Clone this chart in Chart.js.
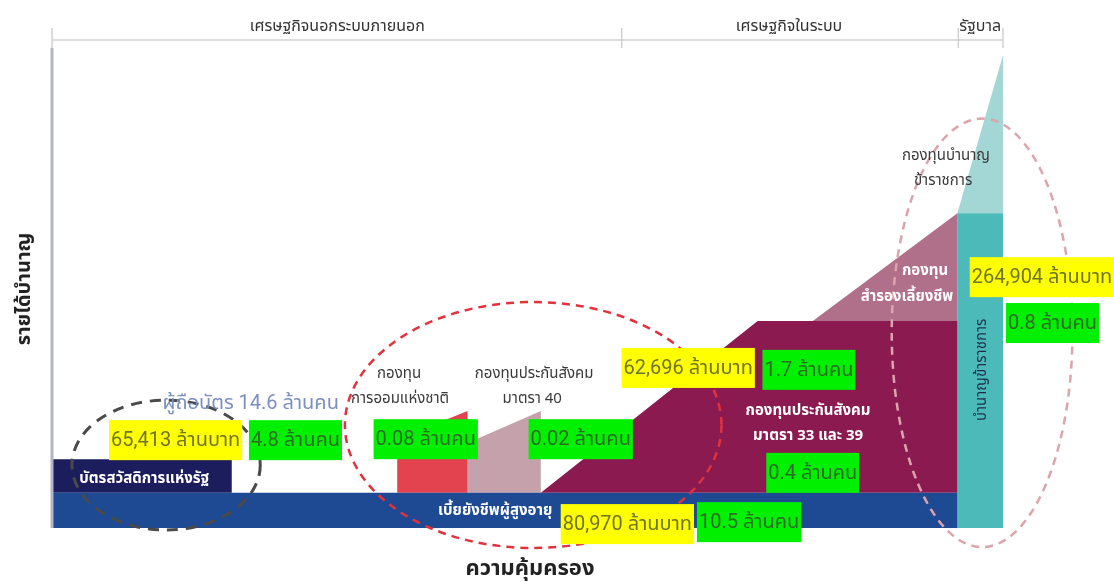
<!DOCTYPE html>
<html>
<head>
<meta charset="utf-8">
<script src="https://cdn.jsdelivr.net/npm/chart.js@4.4.1/dist/chart.umd.min.js"></script>
<style>
  body { margin: 0; background: #fff; }
  #wrap { width: 1114px; height: 582px; }
</style>
</head>
<body>
<div id="wrap"><canvas id="chart"></canvas></div>
<script>
// ---- data (coverage on x, pension income on y, both 0-100) ----
const shapeNames = [
    'เบี้ยยังชีพผู้สูงอายุ', 'บัตรสวัสดิการแห่งรัฐ', 'กองทุนการออมแห่งชาติ',
    'กองทุนประกันสังคม มาตรา 40', 'กองทุนประกันสังคม มาตรา 33 และ 39',
    'กองทุนสำรองเลี้ยงชีพ', 'บำนาญข้าราชการ', 'กองทุนบำนาญข้าราชการ'
];
const shapeCoverage = [
    [0, 95.2, 95.2, 0],
    [0, 18.9, 18.9, 0],
    [36.3, 43.7, 43.7, 36.3],
    [43.7, 51.4, 51.4, 43.7],
    [51.4, 74.2, 95.2, 95.2],
    [80.0, 95.2, 95.2],
    [95.2, 100, 100, 95.2],
    [95.2, 100, 100]
];
const shapeIncome = [
    [0, 0, 7.2, 7.2],
    [7.2, 7.2, 14.1, 14.1],
    [7.2, 7.2, 24.0, 18.2],
    [7.2, 7.2, 24.0, 17.4],
    [7.2, 42.4, 42.4, 7.2],
    [42.4, 64.5, 42.4],
    [0, 0, 64.5, 64.5],
    [64.5, 96.9, 64.5]
];
const shapeColors = ['#1d4a92', '#1c1d5c', '#e2434f', '#c4a1ab', '#8a1a4f', '#b0708a', '#4bbab8', '#a2d7d5'];

// sections along the top
const sectionNames = ['เศรษฐกิจนอกระบบภายนอก', 'เศรษฐกิจในระบบ', 'รัฐบาล'];
const sectionCenters = [30.0, 77.5, 97.6];
const sectionBreaks = [0, 59.9, 95.3, 100];

// amounts (yellow) and members (green)
const amountTexts = ['65,413 ล้านบาท', '62,696 ล้านบาท', '80,970 ล้านบาท', '264,904 ล้านบาท'];
const amountX = [13.0, 66.9, 60.5, 104.1];
const amountY = [18.0, 32.8, 0.8, 51.4];
const memberTexts = ['4.8 ล้านคน', '0.08 ล้านคน', '0.02 ล้านคน', '1.7 ล้านคน', '0.4 ล้านคน', '10.5 ล้านคน', '0.8 ล้านคน'];
const memberX = [25.6, 39.3, 55.6, 79.6, 80.0, 73.3, 105.2];
const memberY = [18.0, 18.2, 18.2, 32.4, 11.3, 1.2, 42.0];

// scheme name labels
const nameTexts = ['กองทุน', 'การออมแห่งชาติ', 'กองทุนประกันสังคม', 'มาตรา 40', 'กองทุนบำนาญ', 'ข้าราชการ'];
const nameX = [36.5, 36.6, 50.7, 50.5, 94.0, 93.7];
const nameY = [31.4, 26.2, 31.4, 26.2, 76.0, 70.9];
const innerTexts = ['บัตรสวัสดิการแห่งรัฐ', 'เบี้ยยังชีพผู้สูงอายุ', 'กองทุนประกันสังคม', 'มาตรา 33 และ 39', 'กองทุน', 'สำรองเลี้ยงชีพ'];
const innerX = [9.7, 46.6, 79.5, 79.5, 91.8, 89.9];
const innerY = [9.8, 3.3, 23.8, 18.6, 52.5, 47.1];
const holderText = 'ผู้ถือบัตร 14.6 ล้านคน';
const holderPos = [20.9, 25.4];
const civilText = 'บำนาญข้าราชการ';
const civilPos = [97.9, 32.4];

// dashed groupings: centre x, centre y, radius x, radius y
const groupCx = [12.0, 50.6, 97.8];
const groupCy = [12.9, 21.1, 40.0];
const groupRx = [9.9, 19.8, 9.5];
const groupRy = [13.3, 25.2, 43.9];
const groupColors = ['#4a4a4a', '#e0333d', '#dca4ac'];

const xTitle = 'ความคุ้มครอง';
const yTitle = 'รายได้บำนาญ';

const FONT = "'Noto Sans Thai', 'Noto Sans', 'DejaVu Sans', sans-serif";
const NUMFONT = "Roboto, 'Noto Sans Thai', 'Noto Sans', sans-serif";

const datasets = shapeNames.map((name, i) => ({
    label: name,
    data: shapeCoverage[i].map((x, j) => ({ x: x, y: shapeIncome[i][j] })),
    backgroundColor: shapeColors[i],
    borderWidth: 0,
    pointRadius: 0,
    fill: 'shape',
    tension: 0
}));

const diagramPlugin = {
    id: 'diagram',
    afterDatasetsDraw(chart) {
        const ctx = chart.ctx;
        const xs = chart.scales.x;
        const ys = chart.scales.y;
        const area = chart.chartArea;
        const px = v => xs.getPixelForValue(v);
        const py = v => ys.getPixelForValue(v);
        ctx.save();

        // dashed ellipses
        groupCx.forEach((cx, i) => {
            const rx = Math.abs(px(cx + groupRx[i]) - px(cx));
            const ry = Math.abs(py(groupCy[i] + groupRy[i]) - py(groupCy[i]));
            ctx.beginPath();
            ctx.ellipse(px(cx), py(groupCy[i]), rx, ry, 0, 0, Math.PI * 2);
            ctx.strokeStyle = groupColors[i];
            ctx.lineWidth = i === 0 ? 3 : 2.5;
            ctx.setLineDash(i === 0 ? [11, 8] : [8, 6]);
            ctx.stroke();
        });
        ctx.setLineDash([]);

        // axis lines
        ctx.strokeStyle = '#b4b4c8';
        ctx.lineWidth = 3;
        ctx.beginPath();
        ctx.moveTo(area.left, area.top + 8);
        ctx.lineTo(area.left, area.bottom);
        ctx.stroke();
        ctx.strokeStyle = '#d0d0d0';
        ctx.lineWidth = 1.5;
        ctx.beginPath();
        ctx.moveTo(area.left, area.top);
        ctx.lineTo(px(100), area.top);
        ctx.stroke();
        sectionBreaks.forEach(v => {
            ctx.beginPath();
            ctx.moveTo(px(v), area.top - 12);
            ctx.lineTo(px(v), area.top + 8);
            ctx.stroke();
        });

        ctx.textAlign = 'center';
        ctx.textBaseline = 'middle';
        ctx.fillStyle = '#333';
        ctx.font = '16px ' + FONT;
        sectionNames.forEach((s, i) => ctx.fillText(s, px(sectionCenters[i]), area.top - 12));

        // name labels
        ctx.fillStyle = '#3a3a3a';
        ctx.font = '15px ' + FONT;
        nameTexts.forEach((t, i) => ctx.fillText(t, px(nameX[i]), py(nameY[i])));
        ctx.fillStyle = '#ffffff';
        ctx.font = 'bold 15px ' + FONT;
        innerTexts.forEach((t, i) => ctx.fillText(t, px(innerX[i]), py(innerY[i])));

        ctx.fillStyle = '#7b8fc0';
        ctx.font = '20px ' + NUMFONT;
        ctx.fillText(holderText, px(holderPos[0]), py(holderPos[1]));

        // boxes
        const box = (t, x, y, fill, color) => {
            ctx.font = '20px ' + NUMFONT;
            const w = ctx.measureText(t).width + 4;
            ctx.fillStyle = fill;
            ctx.fillRect(px(x) - w / 2, py(y) - 20, w, 40);
            ctx.fillStyle = color;
            ctx.fillText(t, px(x), py(y) + 1);
        };
        amountTexts.forEach((t, i) => box(t, amountX[i], amountY[i], '#ffff00', '#6f7428'));
        memberTexts.forEach((t, i) => box(t, memberX[i], memberY[i], '#00f000', '#2c6b24'));

        // vertical label in the civil-service column
        ctx.save();
        ctx.translate(px(civilPos[0]), py(civilPos[1]));
        ctx.rotate(-Math.PI / 2);
        ctx.fillStyle = '#1f2b4e';
        ctx.font = '15px ' + FONT;
        ctx.fillText(civilText, 0, 0);
        ctx.restore();

        // axis titles
        ctx.fillStyle = '#222';
        ctx.font = 'bold 22px ' + FONT;
        ctx.fillText(xTitle, 530, area.bottom + 43);
        ctx.save();
        ctx.translate(26, 289);
        ctx.rotate(-Math.PI / 2);
        ctx.font = 'bold 20px ' + FONT;
        ctx.fillText(yTitle, 0, 0);
        ctx.restore();

        ctx.restore();
    }
};

new Chart(document.getElementById('chart'), {
    type: 'line',
    data: { datasets: datasets },
    options: {
        responsive: true,
        maintainAspectRatio: false,
        animation: false,
        layout: { padding: { left: 52, right: 111, top: 40, bottom: 54 } },
        scales: {
            x: { type: 'linear', min: 0, max: 100, display: false },
            y: { type: 'linear', min: 0, max: 100, display: false }
        },
        plugins: {
            legend: { display: false },
            tooltip: { enabled: false },
            filler: { propagate: false }
        }
    },
    plugins: [diagramPlugin]
});
</script>
</body>
</html>
